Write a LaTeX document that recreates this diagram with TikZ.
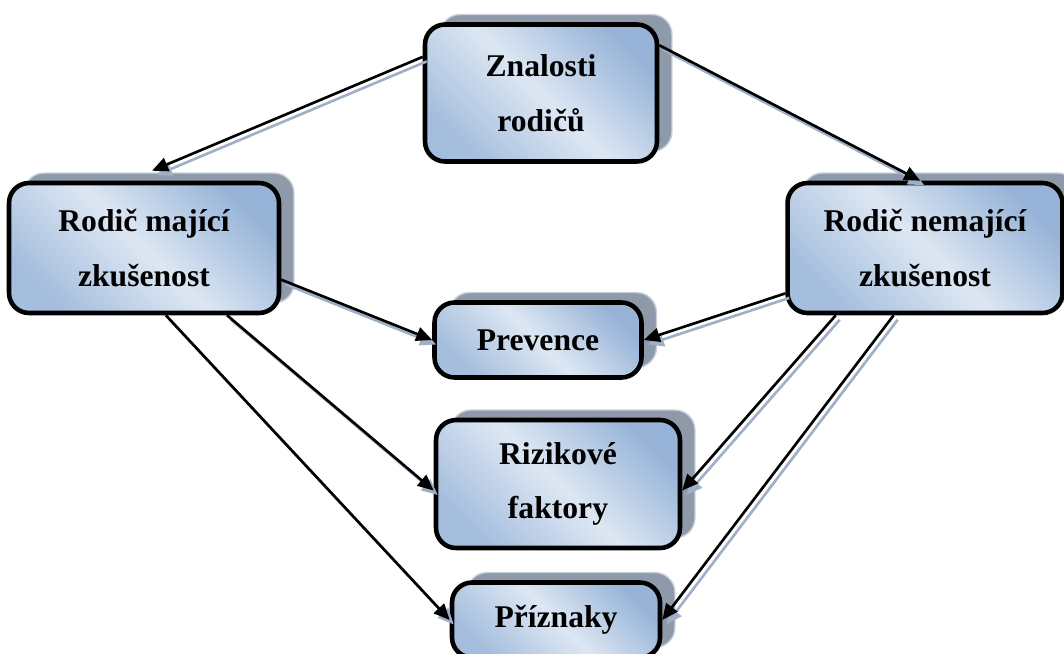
\documentclass[tikz,border=0pt]{standalone}
\usepackage{fontspec}
\setmainfont{Liberation Serif}
\usetikzlibrary{positioning}
\usetikzlibrary{calc}
\usetikzlibrary{shadows}
\usetikzlibrary{arrows.meta}
\definecolor{boxlight}{HTML}{DDE7F3}
\definecolor{boxdark}{HTML}{97B4D8}
\definecolor{shadowfill}{HTML}{8E99AA}
\definecolor{shadowedge}{HTML}{C8D2DE}
\definecolor{lineshadow}{HTML}{9FB0C6}
\tikzset{
    % Rounded box with the blue gradient and an offset shadow
    topic/.style={
        draw, line width=2.6pt, rounded corners=0.4cm,
        top color=boxdark, bottom color=boxdark!80!boxlight, middle color=boxlight,
        shading angle=-45,
        general shadow={shadow xshift=0.3cm, shadow yshift=0.2cm,
            fill=shadowfill, draw=shadowedge, line width=0.8pt},
        align=center, font=\bfseries\fontsize{18}{31}\selectfont},
%
    % Connector between two boxes
    link/.style={line width=1.5pt, -{Triangle[length=0.32cm,width=0.28cm]}},
%
    % The pale copy of a connector, a little down and right
    link shadow/.style={link, draw=lineshadow, fill=lineshadow,
        transform canvas={shift={(0.08cm,-0.09cm)}}}
}

\begin{document}
\begin{tikzpicture}[x=0.02cm, y=-0.02cm]

\clip (0,0) rectangle (1064,653);

% Boxes
\node [topic, minimum width=4.64cm, minimum height=2.74cm] (znal) at (541,93)
    {Znalosti\\rodičů};
\node [topic, minimum width=5.4cm, minimum height=2.6cm] (rm) at (144,248)
    {Rodič mající\\zkušenost};
\node [topic, minimum width=5.5cm, minimum height=2.6cm] (rn) at (925,248)
    {Rodič nemající\\zkušenost};
\node [topic, minimum width=4.14cm, minimum height=1.5cm] (prev) at (538,340)
    {Prevence};
\node [topic, minimum width=4.88cm, minimum height=2.56cm] (riz) at (558,484)
    {Rizikové\\faktory};
\node [topic, minimum width=4.16cm, minimum height=1.5cm] (pri) at (556,620)
    {Příznaky};

\coordinate (rm top) at ($(rm.north)+(8,-10)$);

% Connectors
\foreach \from/\to in {znal.163/rm top, znal.22/rn.94, rm.347/prev.west,
    rn.198/prev.east, rm.321/riz.183, rm.288/pri.west, rn.217/riz.357,
    rn.245/pri.east}
{
    \draw [link shadow] (\from) -- (\to);
    \draw [link] (\from) -- (\to);
}

\end{tikzpicture}
\end{document}
